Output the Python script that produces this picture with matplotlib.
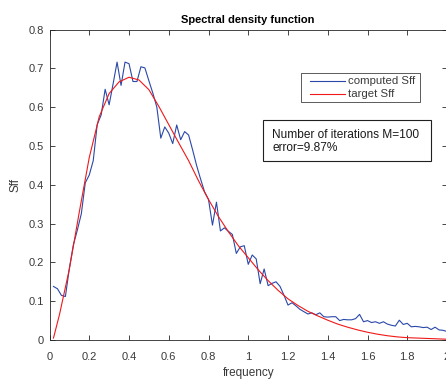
import matplotlib
matplotlib.use("Agg")
import matplotlib.pyplot as plt
from matplotlib.patches import Rectangle
from matplotlib.lines import Line2D

plt.rcParams['font.family'] = ['Liberation Sans', 'DejaVu Sans']

# ---- data ----
freq_computed = [round(0.02 * k, 2) for k in range(1, 101)]
sff_computed = [
    0.138, 0.132, 0.115, 0.112, 0.185, 0.245, 0.283, 0.325, 0.405, 0.425,
    0.462, 0.555, 0.580, 0.646, 0.606, 0.660, 0.716, 0.656, 0.716, 0.712,
    0.666, 0.666, 0.704, 0.701, 0.668, 0.636, 0.600, 0.520, 0.549, 0.533,
    0.506, 0.554, 0.516, 0.537, 0.528, 0.490, 0.450, 0.415, 0.382, 0.362,
    0.296, 0.355, 0.281, 0.289, 0.280, 0.272, 0.223, 0.240, 0.243, 0.195,
    0.219, 0.209, 0.145, 0.183, 0.140, 0.146, 0.150, 0.138, 0.115, 0.090,
    0.096, 0.088, 0.079, 0.073, 0.067, 0.070, 0.065, 0.070, 0.060, 0.059,
    0.060, 0.060, 0.050, 0.053, 0.052, 0.052, 0.055, 0.066, 0.047, 0.050,
    0.045, 0.047, 0.043, 0.047, 0.041, 0.038, 0.036, 0.051, 0.040, 0.043,
    0.034, 0.035, 0.034, 0.032, 0.033, 0.027, 0.033, 0.026, 0.025, 0.022,
]

freq_target = [0.02, 0.05, 0.10, 0.15, 0.20, 0.25, 0.30, 0.35, 0.40, 0.45,
               0.50, 0.55, 0.60, 0.65, 0.70, 0.75, 0.80, 0.85, 0.90, 0.95,
               1.00, 1.05, 1.10, 1.15, 1.20, 1.25, 1.30, 1.35, 1.40, 1.45,
               1.50, 1.55, 1.60, 1.65, 1.70, 1.75, 1.80, 1.85, 1.90, 1.95, 2.00]
sff_target = [0.005, 0.065, 0.183, 0.330, 0.470, 0.575, 0.635, 0.665, 0.677, 0.670,
              0.645, 0.602, 0.555, 0.508, 0.462, 0.410, 0.362, 0.318, 0.279, 0.243,
              0.212, 0.181, 0.153, 0.128, 0.106, 0.089, 0.074, 0.062, 0.051, 0.041,
              0.033, 0.026, 0.020, 0.015, 0.011, 0.008, 0.006, 0.005, 0.004, 0.003, 0.002]

xticks = [0, 0.2, 0.4, 0.6, 0.8, 1, 1.2, 1.4, 1.6, 1.8, 2]
xticklabels = ['0', '0.2', '0.4', '0.6', '0.8', '1', '1.2', '1.4', '1.6', '1.8', '2']
yticks = [0, 0.1, 0.2, 0.3, 0.4, 0.5, 0.6, 0.7, 0.8]
yticklabels = ['0', '0.1', '0.2', '0.3', '0.4', '0.5', '0.6', '0.7', '0.8']

title = 'Spectral density function'
xlabel = 'frequency'
ylabel = 'Sff'
legend_labels = ['computed Sff', 'target Sff']
info_lines = ['Number of iterations M=100', 'error=9.87%']

# ---- figure ----
W, H = 446, 382
fig = plt.figure(figsize=(W / 100, H / 100), dpi=100)

def px(x, y):
    return x / W, 1 - y / H

ax_left, ax_top, ax_right, ax_bottom = 49.5, 29.5, 447.0, 340.0
ax = fig.add_axes([ax_left / W, 1 - ax_bottom / H,
                   (ax_right - ax_left) / W, (ax_bottom - ax_top) / H])

blue = '#2a48a8'
red = '#f01818'
axcol = '#262626'
lblcol = '#3a3a3a'

ax.plot(freq_computed, sff_computed, color=blue, lw=0.8)
ax.plot(freq_target, sff_target, color=red, lw=0.8)

ax.set_xlim(0, 2)
ax.set_ylim(0, 0.8)
ax.set_xticks(xticks)
ax.set_xticklabels(xticklabels)
ax.set_yticks(yticks)
ax.set_yticklabels(yticklabels)
ax.tick_params(direction='in', length=3.5, width=0.6, top=True, right=True,
               labelsize=8, colors=axcol, labelcolor=lblcol)
ax.tick_params(axis='x', pad=8.5)
ax.tick_params(axis='y', pad=4)
for sp in ax.spines.values():
    sp.set_color(axcol)
    sp.set_linewidth(0.6)

ax.set_title(title, fontsize=8.0, fontweight='bold', color='black', pad=4.5)
ax.set_xlabel(xlabel, fontsize=8.5, color=lblcol, labelpad=3.5)
ax.set_ylabel(ylabel, fontsize=8.5, color=lblcol, labelpad=5)

# legend box
lx0, ly0, lx1, ly1 = 300.7, 73.3, 420.0, 101.7
x0, y0 = px(lx0, ly1)
x1, y1 = px(lx1, ly0)
fig.patches.append(Rectangle((x0, y0), x1 - x0, y1 - y0, transform=fig.transFigure,
                             facecolor='white', edgecolor='#404040', lw=0.6))
for i, (lab, col) in enumerate(zip(legend_labels, [blue, red])):
    yc = 80.5 + i * 13.5
    fig.lines.append(Line2D([310 / W, 345 / W], [1 - yc / H, 1 - yc / H],
                            transform=fig.transFigure, color=col, lw=0.8))
    fig.text(348.5 / W, 1 - yc / H, lab, fontsize=8.2, color=lblcol,
             ha='left', va='center')

# info box
bx0, by0, bx1, by1 = 263.3, 120.0, 430.7, 160.7
x0, y0 = px(bx0, by1)
x1, y1 = px(bx1, by0)
fig.patches.append(Rectangle((x0, y0), x1 - x0, y1 - y0, transform=fig.transFigure,
                             facecolor='white', edgecolor='#202020', lw=0.8))
for i, line in enumerate(info_lines):
    yc = 135.5 + i * 12.5
    fig.text(272.5 / W, 1 - yc / H, line, fontsize=8.6, color='#1a1a1a',
             ha='left', va='center')

fig.savefig('out.png', dpi=100)
